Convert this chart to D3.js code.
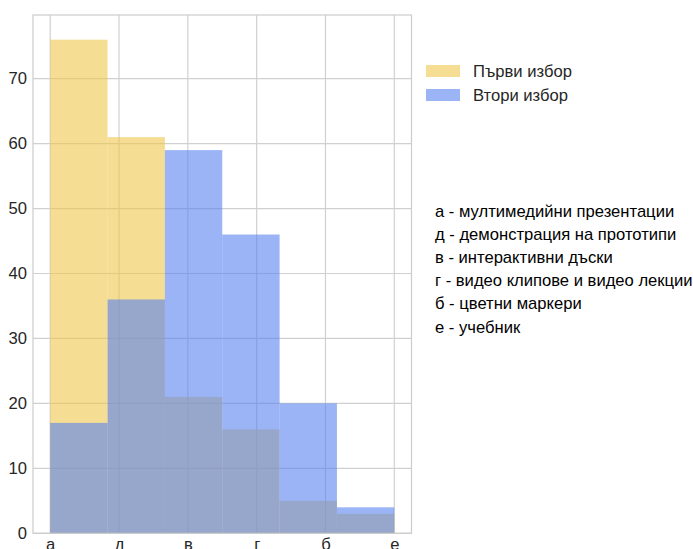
<!DOCTYPE html>
<html>
<head>
<meta charset="utf-8">
<script src="https://cdn.jsdelivr.net/npm/d3@7"></script>
<style>
  body { margin: 0; background: #fff; }
  svg { font-family: "Liberation Sans", Arial, sans-serif; }
  .tick text { fill: #262626; font-size: 16.6px; }
</style>
</head>
<body>
<div id="chart"></div>
<script>
//categories on the x-axis
const categories = ["а", "д", "в", "г", "б", "е"];
//counts of first and second choice
const firstChoice = [76, 61, 21, 16, 5, 3];
const secondChoice = [17, 36, 59, 46, 20, 4];
const yTicks = [0, 10, 20, 30, 40, 50, 60, 70];
const seriesNames = ["Първи избор", "Втори избор"];
const descriptions = [
    "а - мултимедийни презентации",
    "д - демонстрация на прототипи",
    "в - интерактивни дъски",
    "г - видео клипове и видео лекции",
    "б - цветни маркери",
    "е - учебник"
];

const w = 693;
const h = 549;
//plot area edges
const plotLeft = 33, plotRight = 411.5, plotTop = 15, plotBottom = 533.3;

const yellow = "rgb(238,200,77)";
const blue = "rgb(88,130,240)";
const alpha = 0.6;

const binW = (categories.length - 1) / categories.length;

//x scale, with matplotlib style margins
const xScale = d3.scaleLinear()
    .domain([-0.25, 5.25])
    .range([plotLeft, plotRight]);

const yScale = d3.scaleLinear()
    .domain([0, 76 * 1.05])
    .range([plotBottom, plotTop]);

const svg = d3.select("#chart")
    .append("svg")
    .attr("width", w)
    .attr("height", h);

//grid lines
svg.append("g")
    .selectAll("line")
    .data(d3.range(categories.length))
    .enter()
    .append("line")
    .attr("x1", d => xScale(d))
    .attr("x2", d => xScale(d))
    .attr("y1", plotTop)
    .attr("y2", plotBottom)
    .style("stroke", "#d0d0d0")
    .style("stroke-width", 1.2);

svg.append("g")
    .selectAll("line")
    .data(yTicks)
    .enter()
    .append("line")
    .attr("x1", plotLeft)
    .attr("x2", plotRight)
    .attr("y1", d => yScale(d))
    .attr("y2", d => yScale(d))
    .style("stroke", "#d0d0d0")
    .style("stroke-width", 1.2);

//bars for both series
function drawBars(values, color) {
    svg.append("g")
        .selectAll("rect")
        .data(values)
        .enter()
        .append("rect")
        .attr("x", (d, i) => xScale(i * binW))
        .attr("width", (d, i) => xScale((i + 1) * binW) - xScale(i * binW))
        .attr("y", d => yScale(d))
        .attr("height", d => yScale(0) - yScale(d))
        .style("fill", color)
        .style("fill-opacity", alpha);
}
drawBars(firstChoice, yellow);
drawBars(secondChoice, blue);

//frame
svg.append("rect")
    .attr("x", plotLeft)
    .attr("y", plotTop)
    .attr("width", plotRight - plotLeft)
    .attr("height", plotBottom - plotTop)
    .style("fill", "none")
    .style("stroke", "#cccccc")
    .style("stroke-width", 1.2);

//y axis
const yAxis = d3.axisLeft(yScale)
    .tickValues(yTicks)
    .tickSize(0)
    .tickPadding(6);
svg.append("g")
    .attr("transform", "translate(" + plotLeft + ",0)")
    .call(yAxis)
    .call(g => g.select(".domain").remove());

//x axis with category letters (cut by the bottom edge like the original)
const xAxis = d3.axisBottom(xScale)
    .tickValues(d3.range(categories.length))
    .tickFormat(i => categories[i])
    .tickSize(0)
    .tickPadding(5);
svg.append("g")
    .attr("transform", "translate(0," + plotBottom + ")")
    .call(xAxis)
    .call(g => g.select(".domain").remove());

//legend
const legend = svg.append("g");
[yellow, blue].forEach((c, i) => {
    legend.append("rect")
        .attr("x", 426)
        .attr("y", 65 + i * 24)
        .attr("width", 34)
        .attr("height", 12)
        .style("fill", c)
        .style("fill-opacity", alpha);
    legend.append("text")
        .attr("x", 473)
        .attr("y", 77 + i * 24)
        .style("font-size", "16.6px")
        .style("fill", "#262626")
        .text(seriesNames[i]);
});

//explanation of the letters
svg.append("g")
    .selectAll("text")
    .data(descriptions)
    .enter()
    .append("text")
    .attr("x", 435)
    .attr("y", (d, i) => 216.5 + i * 23.2)
    .style("font-size", "16.6px")
    .style("fill", "#000")
    .text(d => d);
</script>
</body>
</html>
